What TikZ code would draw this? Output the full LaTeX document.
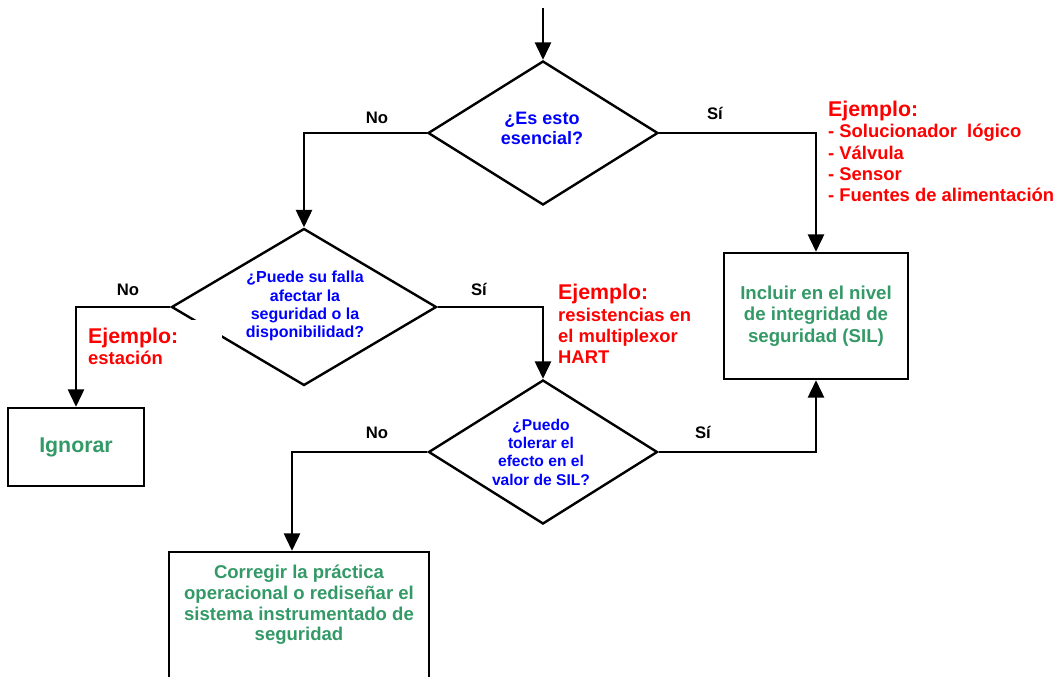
\documentclass[tikz,border=0pt]{standalone}
\usepackage{fontspec}
\setmainfont{Liberation Sans}
\usetikzlibrary{shapes.geometric,arrows.meta,calc}
\definecolor{qblue}{RGB}{0,0,255}
\definecolor{exred}{RGB}{255,0,0}
\definecolor{actgreen}{RGB}{51,153,102}
\newcommand{\fsz}[2]{\fontsize{#1}{#2}\selectfont}
\begin{document}
\begin{tikzpicture}[x=0.75pt,y=-0.75pt,line width=1.8pt,
  flow/.style={-{Triangle[width=12pt,length=13pt]}},
  decision/.style={diamond,draw,inner sep=0pt},
  action/.style={rectangle,draw,inner sep=0pt,text=actgreen,align=center,font=\bfseries\fsz{14}{16.3}},
  question/.style={text=qblue,align=center,inner sep=0pt},
  answer/.style={font=\bfseries\fsz{12.5}{14}},
  example/.style={text=exred,align=left,anchor=north west,inner sep=0pt,font=\bfseries\fsz{13.8}{16}}]
\useasboundingbox (0,0) rectangle (1058,676);
\clip (0,0) rectangle (1058,676);
\coordinate (start) at (543,8);
\node[decision,minimum width=172.5pt,minimum height=108pt] (d1) at (543,133) {};
\node[decision,minimum width=198.75pt,minimum height=117.75pt] (d2) at (304,307) {};
\node[decision,minimum width=171.75pt,minimum height=108pt] (d3) at (543,452) {};
\node[action,minimum width=138pt,minimum height=94.5pt] (bsil) at (816,316) {Incluir en el nivel\\de integridad de\\seguridad (SIL)};
\node[action,minimum width=102pt,minimum height=58.5pt,font=\bfseries\fsz{16}{18}] (bign) at (76,447) {Ignorar};
\node[action,minimum width=195pt,minimum height=127.5pt] (bcor) at (299,637) {};
\node[question,font=\bfseries\fsz{13.5}{15}] (d1q) at (542,128) {¿Es esto\\esencial?};
\node[question,font=\bfseries\fsz{12}{13.6}] (d2q) at (305,306) {¿Puede su falla\\afectar la\\seguridad o la\\disponibilidad?};
\node[question,font=\bfseries\fsz{11.7}{13.75}] (d3q) at (541,452) {¿Puedo\\tolerar el\\efecto en el\\valor de SIL?};
\node[question,text=actgreen,anchor=north,font=\bfseries\fsz{13.9}{15.5}] (bcort) at (299,564) {Corregir la práctica\\operacional o rediseñar el\\sistema instrumentado de\\seguridad};

\draw[flow] (start) -- (d1.north);
\draw[flow] (d1.west) -| (d2.north);
\draw[flow] (d1.east) -| (bsil.north);
\draw[flow] (d2.west) -| (bign.north);
\draw[flow] (d2.east) -| (d3.north);
\draw[flow] (d3.east) -| (bsil.south);
\draw[flow] (d3.west) -| ($(bcor.north)+(-7,0)$);

\node[answer] (no1) at (377,118) {No};
\node[answer] (si1) at (715,113) {Sí};
\node[answer] (no2) at (128,290) {No};
\node[answer] (si2) at (479,289) {Sí};
\node[answer] (no3) at (377,433) {No};
\node[answer] (si3) at (703,432) {Sí};

\node[example] (ex1) at (827,100) {{\fsz{16}{18}Ejemplo:}\\- Solucionador\ \ lógico\\- Válvula\\- Sensor\\- Fuentes de alimentación};
\node[example] (ex2) at (557,283) {{\fsz{16}{18}Ejemplo:}\\resistencias en\\el multiplexor\\HART};
\node[example,fill=white,inner ysep=6pt,text width=100pt] (ex3) at (87,319) {{\fsz{16}{18}Ejemplo:}\\estación};
\end{tikzpicture}
\end{document}
